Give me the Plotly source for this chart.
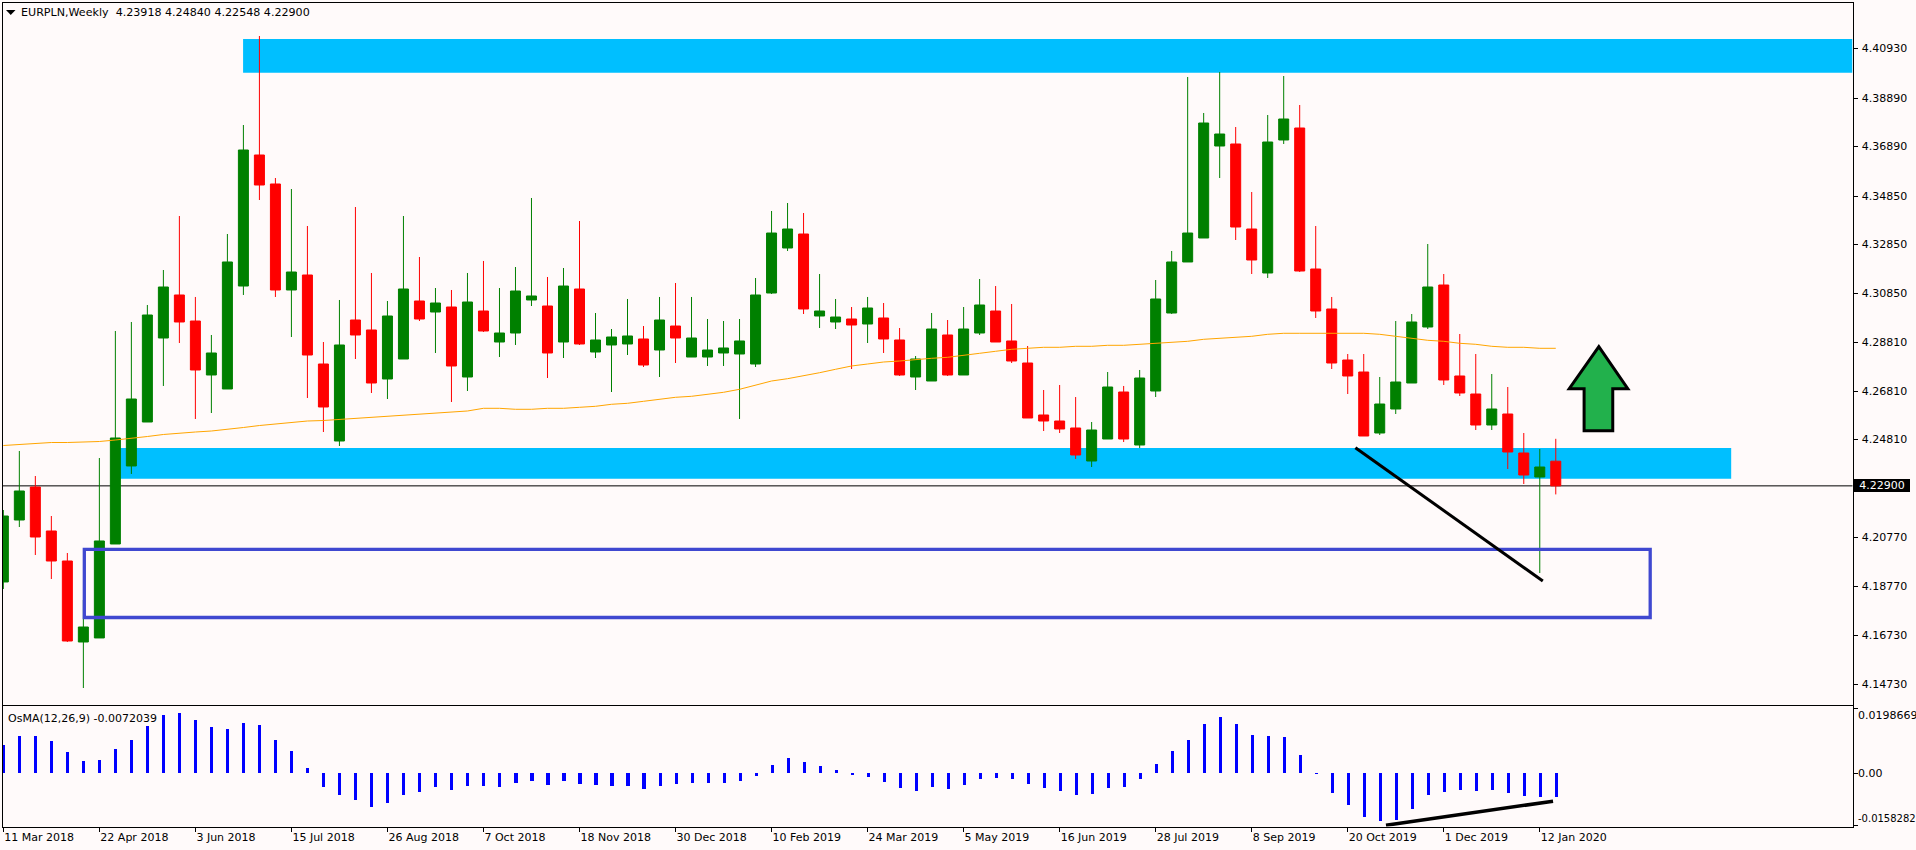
import plotly.graph_objects as go

# Weekly EURPLN candles, oldest first
candle_colours = [
 "G","G","R","R","R","G","G","G","G","G","G","R","R","G","G","G","R","R","G","R",
 "R","G","R","R","G","G","R","G","R","G","R","G","G","G","R","G","R","G","G","G",
 "R","G","R","G","G","G","G","G","G","G","R","G","G","R","G","R","R","G","G","R",
 "G","G","R","R","R","R","R","R","G","G","R","G","G","G","G","G","G","R","R","G",
 "G","R","R","R","R","R","G","G","G","G","R","R","R","G","R","R","G","R"]
highs = [
 4.21905,4.24338,4.23307,4.21658,4.20132,4.18195,4.24049,4.29285,4.29656,4.30357,
 4.31799,4.34025,4.30687,4.29120,4.33283,4.37777,4.41446,4.35592,4.35138,4.33613,
 4.28831,4.30563,4.34396,4.31676,4.30521,4.34025,4.32335,4.31057,4.30975,4.31676,
 4.32171,4.31057,4.31923,4.34768,4.31511,4.31882,4.33819,4.30026,4.29367,4.30604,
 4.29490,4.30687,4.31263,4.30687,4.29779,4.29697,4.29779,4.31470,4.34232,4.34561,
 4.34149,4.31634,4.30604,4.30274,4.30687,4.30439,4.29408,4.28254,4.30026,4.29738,
 4.30274,4.31428,4.31139,4.30398,4.28666,4.26852,4.27059,4.26563,4.25533,4.27594,
 4.27018,4.27677,4.31387,4.32583,4.39756,4.38272,4.39962,4.37694,4.35015,4.38189,
 4.39797,4.38601,4.33613,4.30687,4.28336,4.28336,4.27388,4.29697,4.29985,4.32871,
 4.31634,4.29161,4.28336,4.27512,4.26976,4.25079,4.24420,4.24840]
body_tops = [
 4.21658,4.22689,4.22853,4.21040,4.19803,4.17082,4.20628,4.24874,4.26481,4.29944,
 4.31098,4.30769,4.29697,4.28378,4.32130,4.36746,4.36540,4.35345,4.31717,4.31593,
 4.27924,4.28708,4.29738,4.29326,4.29903,4.31016,4.30521,4.30439,4.30274,4.30480,
 4.30109,4.29202,4.30933,4.30728,4.30315,4.31139,4.31016,4.28914,4.29037,4.29079,
 4.28955,4.29738,4.29490,4.28996,4.28501,4.28584,4.28873,4.30769,4.33324,4.33489,
 4.33283,4.30109,4.29861,4.29779,4.30233,4.29821,4.28914,4.28130,4.29367,4.29120,
 4.29367,4.30357,4.30109,4.28873,4.27965,4.25822,4.25574,4.25286,4.25203,4.26976,
 4.26770,4.27347,4.30604,4.32130,4.33324,4.37859,4.37406,4.36994,4.33489,4.37076,
 4.38024,4.37653,4.31840,4.30192,4.28089,4.27594,4.26275,4.27182,4.29656,4.31098,
 4.31181,4.27430,4.26687,4.26069,4.25863,4.24255,4.23678,4.23918]
body_bottoms = [
 4.18938,4.21493,4.20792,4.19803,4.16505,4.16464,4.16630,4.20504,4.23720,4.25533,
 4.28996,4.29656,4.27677,4.27471,4.26894,4.31139,4.35303,4.30975,4.30975,4.28295,
 4.26152,4.24750,4.29120,4.27141,4.27306,4.28130,4.29779,4.30068,4.27842,4.27388,
 4.29285,4.28831,4.29202,4.30563,4.28378,4.28831,4.28749,4.28419,4.28708,4.28749,
 4.27883,4.28501,4.28996,4.28212,4.28212,4.28378,4.28336,4.27924,4.30851,4.32706,
 4.30192,4.29903,4.29656,4.29532,4.29573,4.28955,4.27471,4.27388,4.27223,4.27471,
 4.27471,4.29202,4.28831,4.28048,4.25698,4.25574,4.25245,4.24173,4.23925,4.24832,
 4.24832,4.24585,4.26811,4.30026,4.32130,4.33118,4.36911,4.33572,4.32212,4.31676,
 4.37159,4.31758,4.30109,4.27965,4.27430,4.24956,4.25079,4.26069,4.27141,4.29449,
 4.27265,4.26729,4.25409,4.25409,4.24296,4.23348,4.23266,4.22900]
lows = [
 4.18649,4.21204,4.20050,4.19061,4.16464,4.14567,4.16630,4.20504,4.23390,4.25533,
 4.27018,4.28790,4.25657,4.25904,4.26894,4.30769,4.34685,4.30687,4.29037,4.26522,
 4.25121,4.24544,4.28130,4.26729,4.26481,4.28130,4.29697,4.28378,4.26358,4.26811,
 4.29244,4.28212,4.28708,4.30315,4.27347,4.28171,4.28708,4.28171,4.26770,4.28295,
 4.27801,4.27388,4.27965,4.28212,4.27842,4.27842,4.25657,4.27801,4.30810,4.32583,
 4.29985,4.29408,4.29367,4.27718,4.28790,4.28378,4.27430,4.26852,4.27223,4.27430,
 4.27471,4.29120,4.28831,4.27965,4.25698,4.25162,4.25079,4.24008,4.23678,4.24832,
 4.24708,4.24462,4.26563,4.29985,4.32130,4.33118,4.35592,4.33036,4.31634,4.31470,
 4.36994,4.31717,4.29821,4.27718,4.26687,4.24956,4.24997,4.25863,4.27141,4.29367,
 4.27059,4.26605,4.25203,4.25203,4.23595,4.22977,4.19308,4.22548]
moving_average = [
 4.24564,4.24606,4.24647,4.24688,4.24688,4.24696,4.24729,4.24791,4.24853,4.24935,
 4.25018,4.25079,4.25121,4.25162,4.25224,4.25306,4.25388,4.25450,4.25512,4.25574,
 4.25595,4.25636,4.25677,4.25718,4.25760,4.25801,4.25863,4.25883,4.25925,4.25987,
 4.26098,4.26098,4.26057,4.26057,4.26098,4.26098,4.26139,4.26180,4.26263,4.26304,
 4.26386,4.26469,4.26551,4.26592,4.26675,4.26757,4.26881,4.27046,4.27223,4.27318,
 4.27430,4.27565,4.27706,4.27842,4.27924,4.28006,4.28048,4.28118,4.28159,4.28200,
 4.28295,4.28365,4.28448,4.28530,4.28571,4.28612,4.28612,4.28654,4.28654,4.28695,
 4.28695,4.28736,4.28777,4.28819,4.28860,4.28942,4.28984,4.29025,4.29066,4.29148,
 4.29190,4.29190,4.29190,4.29190,4.29190,4.29190,4.29148,4.29066,4.28984,4.28901,
 4.28860,4.28777,4.28736,4.28654,4.28612,4.28612,4.28571,4.28571]
osma = [
 .00833,.01101,.01101,.00952,.00625,.00357,.00387,.00714,.00982,.01399,
 .01726,.01786,.01577,.01369,.01309,.01488,.01428,.00982,.00655,.00149,
 -.00417,-.00655,-.00804,-.01012,-.00893,-.00655,-.00565,-.00417,-.00506,-.00387,
 -.00387,-.00417,-.00298,-.00238,-.00357,-.00238,-.00327,-.00357,-.00387,-.00387,
 -.00476,-.00387,-.00327,-.00298,-.00298,-.00298,-.00238,-.00089,.00238,.00446,
 .00327,.00208,.00089,-.00050,-.00119,-.00268,-.00446,-.00536,-.00417,-.00476,
 -.00357,-.00179,-.00149,-.00179,-.00327,-.00446,-.00536,-.00655,-.00625,-.00446,
 -.00417,-.00179,.00268,.00655,.00982,.01458,.01667,.01458,.01131,.01101,
 .01071,.00536,-.00020,-.00595,-.00952,-.01309,-.01428,-.01399,-.01071,-.00655,
 -.00565,-.00506,-.00536,-.00506,-.00595,-.00684,-.00714,-.0072039]
date_labels = ["11 Mar 2018","22 Apr 2018","3 Jun 2018","15 Jul 2018","26 Aug 2018","7 Oct 2018",
 "18 Nov 2018","30 Dec 2018","10 Feb 2019","24 Mar 2019","5 May 2019","16 Jun 2019",
 "28 Jul 2019","8 Sep 2019","20 Oct 2019","1 Dec 2019","12 Jan 2020"]
price_ticks = [4.4093,4.3889,4.3689,4.3485,4.3285,4.3085,4.2881,4.2681,4.2481,4.2077,4.1877,4.1673,4.1473]
last_close = 4.229

W, H = 1916, 850
BG = "#FFFAFA"
FONT = "DejaVu Sans"
bars = list(range(len(highs)))
opens = [b if c == "G" else t for c, t, b in zip(candle_colours, body_tops, body_bottoms)]
closes = [t if c == "G" else b for c, t, b in zip(candle_colours, body_tops, body_bottoms)]
x_range = [-0.052, 115.54]

fig = go.Figure()
fig.add_trace(go.Candlestick(
    x=bars, open=opens, high=highs, low=lows, close=closes, xaxis="x", yaxis="y",
    whiskerwidth=0, showlegend=False, hoverinfo="skip",
    increasing=dict(line=dict(color="#008000", width=1), fillcolor="#008000"),
    decreasing=dict(line=dict(color="#FF0000", width=1), fillcolor="#FF0000")))
fig.add_trace(go.Scatter(x=bars, y=moving_average, mode="lines", xaxis="x", yaxis="y",
    line=dict(color="#FFA500", width=1), showlegend=False, hoverinfo="skip"))
fig.add_trace(go.Bar(x=bars, y=osma, width=0.19, xaxis="x2", yaxis="y2",
    marker=dict(color="#0000FF", line=dict(width=0)), showlegend=False, hoverinfo="skip"))

def rect(x0, x1, y0, y1, **kw):
    return dict(type="rect", xref="x", yref="y", x0=x0, x1=x1, y0=y0, y1=y1, **kw)

shapes = [
    rect(14.98, 115.54, 4.39933, 4.41322, fillcolor="#00BFFF", line_width=0, layer="below"),
    rect(7.0, 107.96, 4.23196, 4.24461, fillcolor="#00BFFF", line_width=0, layer="below"),
    dict(type="line", xref="paper", yref="y", x0=2.5/W, x1=1852.5/W, y0=last_close, y1=last_close,
         line=dict(color="black", width=1), layer="below"),
    rect(5.06, 102.9, 4.17473, 4.20285, line=dict(color="#4048D0", width=3.3), layer="above"),
    dict(type="line", xref="x", yref="y", x0=84.48, x1=96.19, y0=4.24473, y1=4.18978,
         line=dict(color="black", width=3), layer="above"),
    dict(type="path", xref="x", yref="y",
         path="M 99.69 4.28637 L 101.5 4.26906 L 100.56 4.26906 L 100.56 4.25174 "
              "L 98.77 4.25174 L 98.77 4.26906 L 97.84 4.26906 Z",
         fillcolor="#22B14C", line=dict(color="black", width=3), layer="above"),
    dict(type="line", xref="x2", yref="y2", x0=86.39, x1=96.83, y0=-.01547, y1=-.00833,
         line=dict(color="black", width=3.5), layer="above"),
    dict(type="path", xref="paper", yref="paper",
         path=f"M {6/W} {1-10/H} L {15.5/W} {1-10/H} L {10.75/W} {1-15/H} Z",
         fillcolor="black", line_width=0),
]

def note(text, x_px, y_px, size=11, anchor="left"):
    return dict(text=text, xref="paper", yref="paper", x=x_px/W, y=1-y_px/H, xanchor=anchor,
                yanchor="middle", showarrow=False, font=dict(family=FONT, size=size, color="black"),
                borderpad=0, borderwidth=0)

annotations = [
    note("EURPLN,Weekly\u00a0\u00a04.23918 4.24840 4.22548 4.22900", 20.5, 12.5, size=11.1),
    note("OsMA(12,26,9) -0.0072039", 7.5, 718),
    note("0.0198669", 1857.5, 715.7),
    note("0.00", 1857.5, 773),
    note("-0.0158282", 1857.5, 818, size=10),
    dict(text="4.22900", xref="paper", yref="y", x=1854/W, y=last_close, xanchor="left",
         yanchor="middle", showarrow=False, width=56, height=13, borderpad=0, borderwidth=0,
         bgcolor="black", align="center", font=dict(family=FONT, size=11, color="white")),
]

axis_common = dict(showgrid=False, zeroline=False, showline=True, linecolor="black", linewidth=1,
                   mirror=True, fixedrange=True)
fig.update_layout(
    width=W, height=H, margin=dict(l=0, r=0, t=0, b=0, pad=0, autoexpand=False),
    paper_bgcolor=BG, plot_bgcolor=BG, font=dict(family=FONT, size=11, color="black"),
    boxgap=0.375, boxgroupgap=0, bargap=0, hovermode=False, shapes=shapes, annotations=annotations,
    xaxis=dict(domain=[2.5/W, 1852.5/W], range=x_range, anchor="y", showticklabels=False, ticks="",
               rangeslider=dict(visible=False), **axis_common),
    yaxis=dict(domain=[1-704.5/H, 1-2.5/H], range=[4.13887, 4.42827], anchor="x", side="right",
               tickmode="array", tickvals=price_ticks, ticktext=[f"{v:.5f}" for v in price_ticks],
               ticks="outside", ticklen=4, tickcolor="black", tickfont=dict(family=FONT, size=11, color="black"),
               ticklabelstandoff=2, **axis_common),
    xaxis2=dict(domain=[2.5/W, 1852.5/W], range=x_range, anchor="y2", tickmode="array",
                tickvals=bars[::6], ticktext=date_labels, ticks="outside", ticklen=4, tickcolor="black",
                ticklabelposition="outside right", tickangle=0,
                tickfont=dict(family=FONT, size=11, color="black"), **axis_common),
    yaxis2=dict(domain=[1-826.5/H, 1-706/H], range=[-0.0158282, 0.0198669], anchor="x2", side="right",
                tickmode="array", tickvals=[0.01904, 0, -0.01547], ticktext=["", "", ""],
                ticks="outside", ticklen=4, tickcolor="black", **axis_common),
)
fig.write_html("out.html", config={"displayModeBar": False},
               post_script="document.body.style.margin='0';document.documentElement.style.overflow='hidden';")
